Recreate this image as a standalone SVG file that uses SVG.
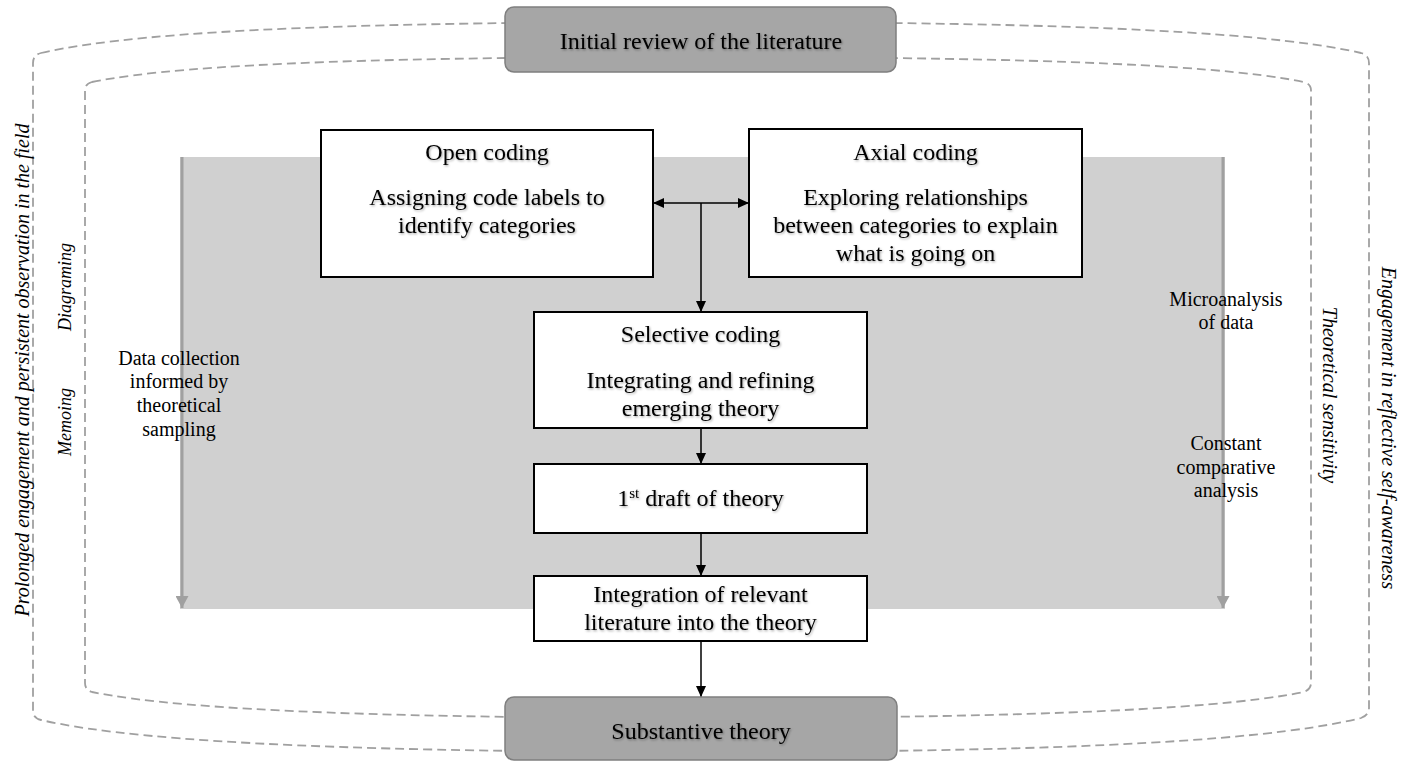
<svg xmlns="http://www.w3.org/2000/svg" width="1402" height="761" viewBox="0 0 1402 761">
  <style>
    .box-t { font-family: "Liberation Serif", "Times New Roman", serif; fill: #000; font-size: 24px; text-anchor: middle; filter: url(#shadow); }
    .side { font-family: "Liberation Serif", "Times New Roman", serif; fill: #000; font-size: 20px; text-anchor: middle; }
    .vert { font-family: "Liberation Serif", "Times New Roman", serif; fill: #000; font-size: 20px; font-style: italic; text-anchor: middle; }
    .vert.small { font-size: 18px; }
    .dash { fill: none; stroke: #a0a0a0; stroke-width: 1.8; stroke-dasharray: 9 5; }
    .step { fill: #fff; stroke: #000; stroke-width: 2; }
    .term { fill: #a6a6a6; stroke: #7f7f7f; stroke-width: 1.5; }
    .conn { fill: none; stroke: #000; stroke-width: 1.5; }
    .flow { fill: none; stroke: #a0a0a0; stroke-width: 3; }
  </style>
  <defs>
    <filter id="shadow" x="-10%" y="-30%" width="120%" height="160%">
      <feDropShadow dx="1" dy="1.2" stdDeviation="0.8" flood-color="#000" flood-opacity="0.35"/>
    </filter>
    <marker id="ah" viewBox="0 0 11 10" refX="11" refY="5" markerWidth="11" markerHeight="10" markerUnits="userSpaceOnUse" orient="auto-start-reverse">
      <path d="M0,0 L11,5 L0,10 Z" fill="#000"/>
    </marker>
    <marker id="ahg" viewBox="0 0 12 13" refX="12" refY="6.5" markerWidth="12" markerHeight="13" markerUnits="userSpaceOnUse" orient="auto">
      <path d="M0,0 L12,6.5 L0,13 Z" fill="#a0a0a0"/>
    </marker>
  </defs>

  <!-- outer and inner dashed boundaries -->
  <g id="boundaries">
    <path class="dash" d="M41,53 C150,28 400,22 701,22 C1002,22 1252,28 1361,53 Q1369,55 1369,63 L1369,708 Q1369,715 1361,718 C1252,745 1002,752 701,752 C400,752 150,745 41,720 Q33,718 33,711 L33,63 Q33,55 41,53 Z"/>
    <path class="dash" d="M92,82 C190,62 420,57 698,57 C976,57 1206,62 1304,82 Q1311,84 1311,90 L1311,683 Q1311,689 1304,692 C1206,712 976,718 698,718 C420,718 190,712 92,692 Q85,690 85,683 L85,90 Q85,84 92,82 Z"/>
  </g>

  <!-- shaded analysis area with downward flow on both edges -->
  <g id="analysis-area">
    <rect x="180" y="157" width="1045" height="452" fill="#d0d0d0"/>
    <line class="flow" x1="182" y1="157" x2="182" y2="608" marker-end="url(#ahg)"/>
    <line class="flow" x1="1223" y1="157" x2="1223" y2="608" marker-end="url(#ahg)"/>
  </g>

  <!-- side labels -->
  <g id="side-labels">
    <text class="side" x="179" y="365">Data collection</text>
    <text class="side" x="179" y="388">informed by</text>
    <text class="side" x="179" y="412">theoretical</text>
    <text class="side" x="179" y="436">sampling</text>
    <text class="side" x="1226" y="306">Microanalysis</text>
    <text class="side" x="1226" y="329">of data</text>
    <text class="side" x="1226" y="450">Constant</text>
    <text class="side" x="1226" y="474">comparative</text>
    <text class="side" x="1226" y="497">analysis</text>
    <text class="vert" transform="translate(28.5,370) rotate(-90)">Prolonged engagement and persistent observation in the field</text>
    <text class="vert small" transform="translate(71,287) rotate(-90)">Diagraming</text>
    <text class="vert small" transform="translate(71,422) rotate(-90)">Memoing</text>
    <text class="vert" transform="translate(1323,395) rotate(90)">Theoretical sensitivity</text>
    <text class="vert" transform="translate(1382,428) rotate(90)">Engagement in reflective self-awareness</text>
  </g>

  <!-- connectors -->
  <g id="connectors">
    <line class="conn" x1="653" y1="203" x2="749" y2="203" marker-start="url(#ah)" marker-end="url(#ah)"/>
    <line class="conn" x1="701" y1="203" x2="701" y2="312" marker-end="url(#ah)"/>
    <line class="conn" x1="701" y1="428" x2="701" y2="464" marker-end="url(#ah)"/>
    <line class="conn" x1="701" y1="533" x2="701" y2="576" marker-end="url(#ah)"/>
    <line class="conn" x1="701" y1="641" x2="701" y2="697" marker-end="url(#ah)"/>
  </g>

  <g id="initial-review">
    <rect class="term" x="505" y="7" width="391" height="65" rx="9"/>
    <text class="box-t" x="701" y="49">Initial review of the literature</text>
  </g>

  <g id="open-coding">
    <rect class="step" x="321" y="130" width="332" height="147"/>
    <text class="box-t" x="487" y="160">Open coding</text>
    <text class="box-t" x="487" y="205">Assigning code labels to</text>
    <text class="box-t" x="487" y="233">identify categories</text>
  </g>

  <g id="axial-coding">
    <rect class="step" x="749" y="129" width="333" height="148"/>
    <text class="box-t" x="915.5" y="160">Axial coding</text>
    <text class="box-t" x="915.5" y="205">Exploring relationships</text>
    <text class="box-t" x="915.5" y="233">between categories to explain</text>
    <text class="box-t" x="915.5" y="261">what is going on</text>
  </g>

  <g id="selective-coding">
    <rect class="step" x="534" y="312" width="333" height="116"/>
    <text class="box-t" x="700.5" y="342">Selective coding</text>
    <text class="box-t" x="700.5" y="388">Integrating and refining</text>
    <text class="box-t" x="700.5" y="416">emerging theory</text>
  </g>

  <g id="first-draft">
    <rect class="step" x="534" y="464" width="333" height="69"/>
    <text class="box-t" x="700.5" y="506">1<tspan font-size="15" dy="-8">st</tspan><tspan dy="8"> draft of theory</tspan></text>
  </g>

  <g id="integration">
    <rect class="step" x="534" y="576" width="333" height="65"/>
    <text class="box-t" x="700.5" y="602">Integration of relevant</text>
    <text class="box-t" x="700.5" y="630">literature into the theory</text>
  </g>

  <g id="substantive-theory">
    <rect class="term" x="505" y="697" width="392" height="63" rx="9"/>
    <text class="box-t" x="701" y="739">Substantive theory</text>
  </g>
</svg>
